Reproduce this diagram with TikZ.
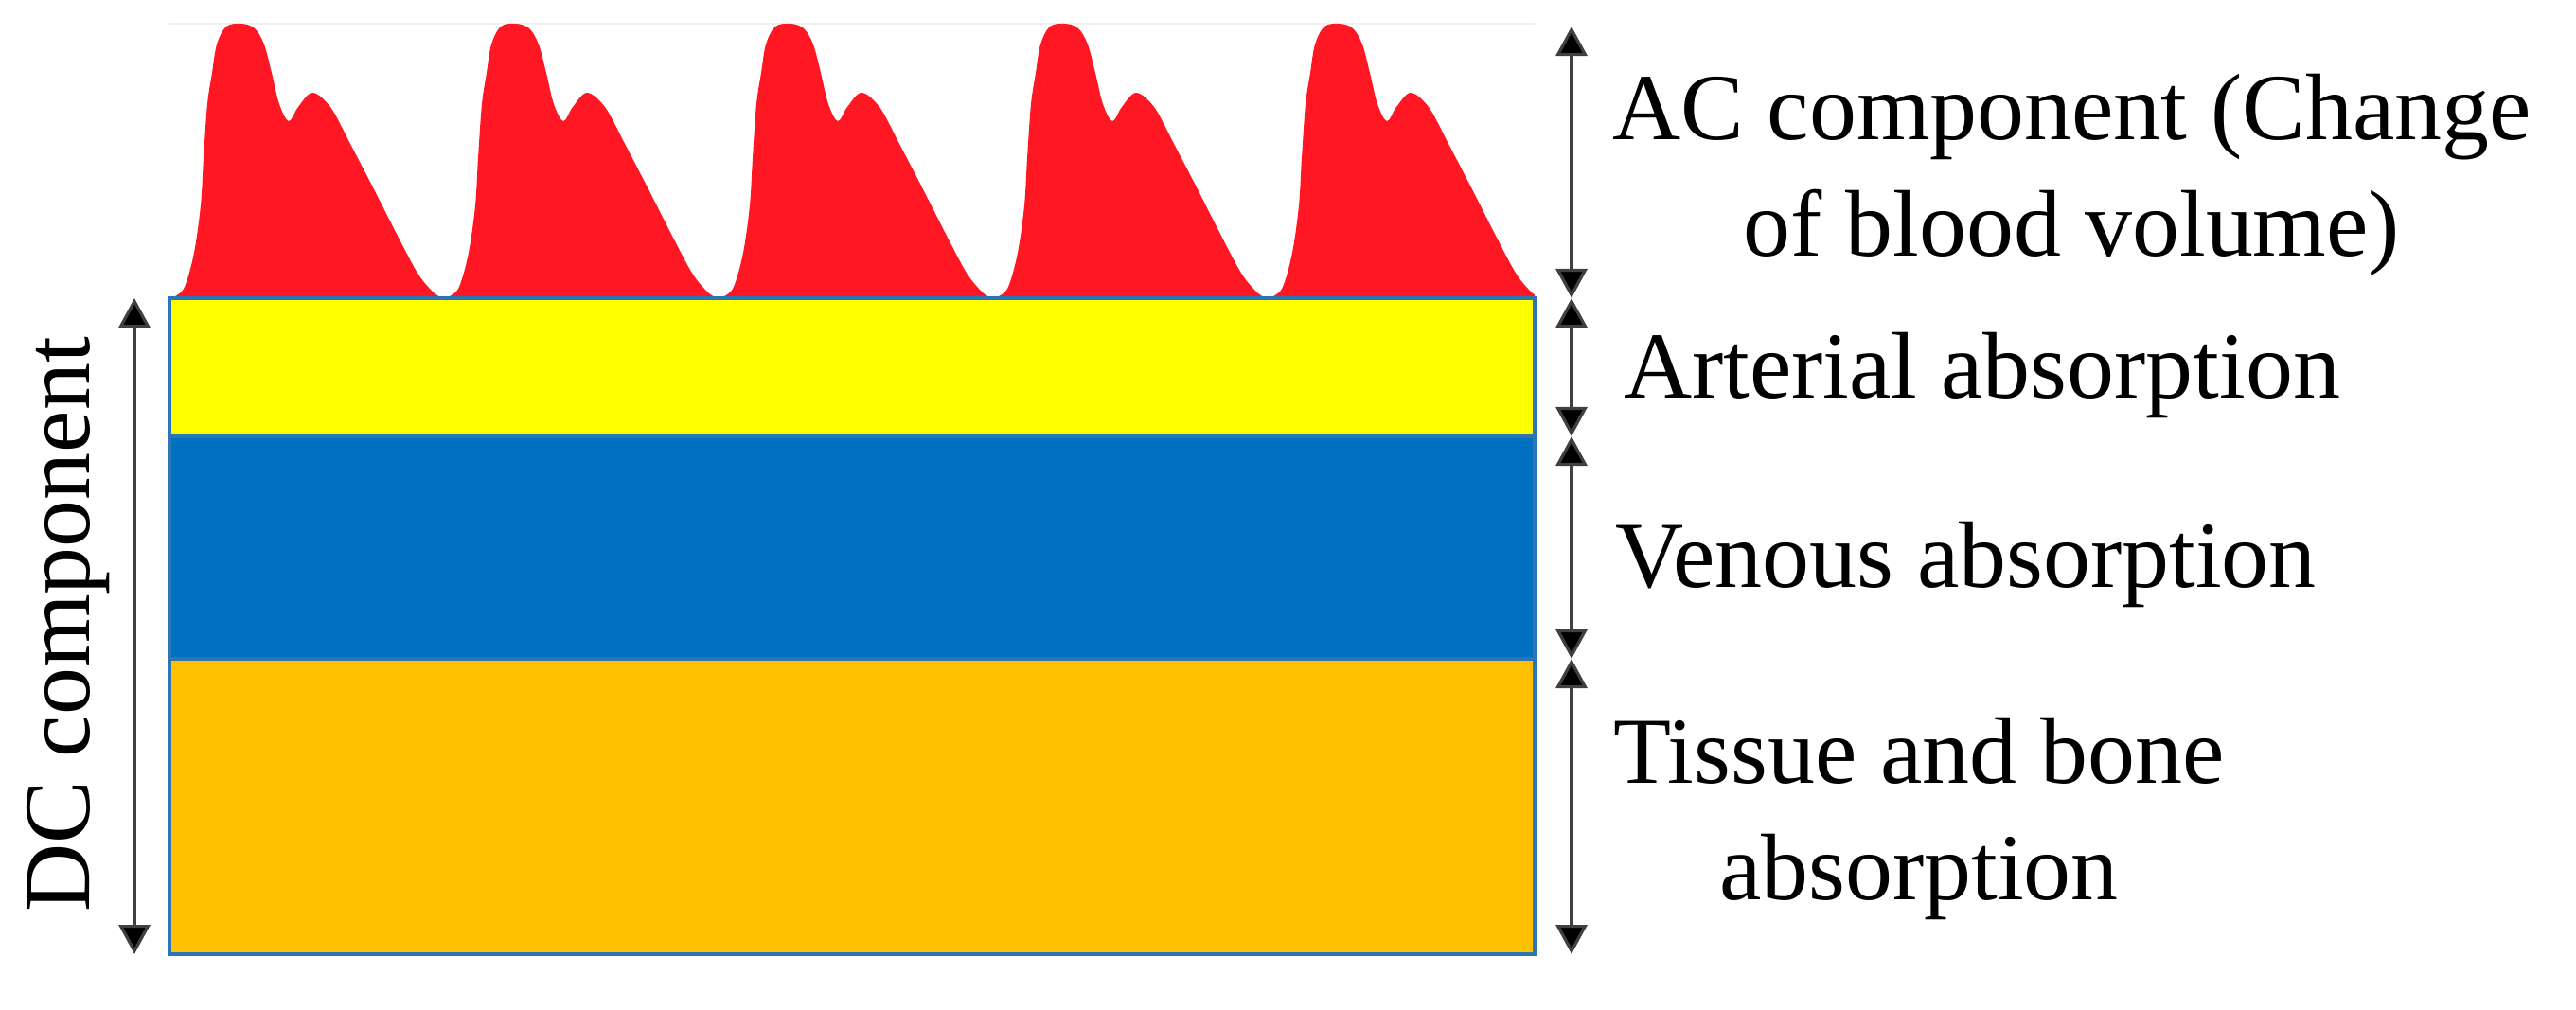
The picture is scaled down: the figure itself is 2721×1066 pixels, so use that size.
\documentclass[tikz,border=0pt]{standalone}
\usepackage{fontspec}
\setmainfont{Liberation Serif}
\usetikzlibrary{arrows.meta}
\definecolor{pulsered}{RGB}{255,24,36}
\definecolor{artyellow}{RGB}{255,255,0}
\definecolor{venblue}{RGB}{0,112,192}
\definecolor{tissorange}{RGB}{255,192,0}
\definecolor{edgeblue}{RGB}{46,117,182}

\begin{document}
\begin{tikzpicture}[x=0.01cm, y=-0.01cm, semithick,
            layer/.style ={draw=edgeblue, line width=1pt},
            dimarrow/.style ={{Triangle[length=0.31cm,width=0.33cm,fill=black]}-{Triangle[length=0.31cm,width=0.33cm,fill=black]},
            line width=0.9pt, black!75},
            txt/.style ={font=\fontsize{28.4}{34.7}\selectfont, inner sep=0pt, align=center}]

        \useasboundingbox (0,0) rectangle (2721,1066);

        %la senal AC (pulsos)
        \draw[gray!12, line width=0.6pt] (179,25) -- (1621,25);
        \begin{scope}
            \clip (179,0) rectangle (1621,320);
            \foreach \v in {177,467,757,1047,1337}{
                \fill[pulsered] plot[smooth, tension=0.55] coordinates {(\v,315) ({\v+8},313) ({\v+18},303)
                    ({\v+28},267) ({\v+35},217) ({\v+38},167) ({\v+42},110) ({\v+47},77) ({\v+52},47)
                    ({\v+62},28) ({\v+78},25) ({\v+92},30) ({\v+102},47) ({\v+110},77) ({\v+118},110)
                    ({\v+128},128) ({\v+138},113) ({\v+153},98) ({\v+172},113) ({\v+192},150)
                    ({\v+218},200) ({\v+245},253) ({\v+265},290) ({\v+282},310) ({\v+292},315)} -- cycle;
            }
        \end{scope}

        %capas DC
        \filldraw[layer, fill=tissorange] (179,696) rectangle (1621,1008);
        \filldraw[layer, fill=venblue] (179,461) rectangle (1621,696);
        \filldraw[layer, fill=artyellow] (179,315) rectangle (1621,461);

        \coordinate (acTop) at (1660,28);
        \coordinate (r1) at (1660,315);
        \coordinate (r2) at (1660,461);
        \coordinate (r3) at (1660,696);
        \coordinate (r4) at (1660,1008);
        \coordinate (dcTop) at (142,315);
        \coordinate (dcBot) at (142,1008);

        \draw[dimarrow] (acTop) -- (r1);
        \draw[dimarrow] (r1) -- (r2);
        \draw[dimarrow] (r2) -- (r3);
        \draw[dimarrow] (r3) -- (r4);
        \draw[dimarrow] (dcTop) -- (dcBot);

        %base = linea de base de la ultima linea
        \node[txt, anchor=base west] (ac) at (1702,270) {AC component (Change\\of blood volume)};
        \node[txt, anchor=base west] (art) at (1714,420) {Arterial absorption};
        \node[txt, anchor=base west] (ven) at (1705,620) {Venous absorption};
        \node[txt, anchor=base west] (tis) at (1703,950) {Tissue and bone\\absorption};
        \node[txt, rotate=90, anchor=base] (dc) at (94,660) {DC component};

\end{tikzpicture}
\end{document}
